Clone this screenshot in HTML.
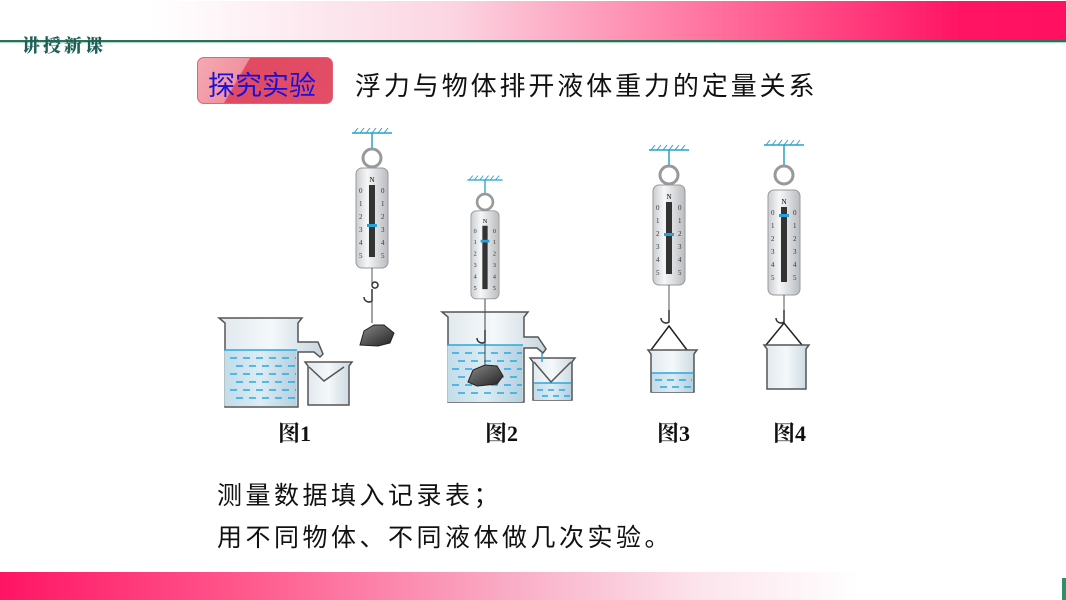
<!DOCTYPE html>
<html><head><meta charset="utf-8">
<style>
html,body{margin:0;padding:0;}
body{width:1066px;height:600px;position:relative;overflow:hidden;background:#fff;font-family:"Liberation Sans","Noto Sans CJK SC",sans-serif;}
.top{position:absolute;left:0;top:1px;width:1066px;height:39px;background:linear-gradient(90deg,#fff 0px,#fff 150px,#fbd6e2 450px,#ff6e9c 720px,#ff1464 960px,#ff1060 1066px);}
.topline{position:absolute;left:0;top:40px;width:1066px;height:2px;background:#2f6f5a;}
.topline2{position:absolute;left:0;top:42px;width:1066px;height:1px;background:#a8dcc8;}
.tag{position:absolute;left:22px;top:32px;font-size:18px;font-weight:900;color:#1f5f57;letter-spacing:3px;font-family:"Liberation Serif","Noto Serif CJK SC",serif;}
.badge{position:absolute;left:197px;top:57px;width:136px;height:47px;border-radius:7px;background:linear-gradient(120deg,#f5aab4 0%,#f1929f 32%,#e04a62 33%,#e24e66 100%);border:1px solid #e0637a;box-sizing:border-box;}
.badge span{position:absolute;left:10px;top:6px;font-size:27px;color:#1a10d8;font-family:"Liberation Sans","Noto Sans CJK SC",sans-serif;}
.title{position:absolute;left:355px;top:66px;font-size:26px;letter-spacing:2.9px;color:#111;white-space:nowrap;}
.fig{position:absolute;top:417px;font-size:22px;font-weight:bold;font-family:"Liberation Serif","Noto Serif CJK SC",serif;color:#111;}
.line{position:absolute;left:217px;font-size:25px;letter-spacing:3.5px;color:#111;white-space:nowrap;}
.bot{position:absolute;left:0;top:572px;width:1066px;height:28px;background:linear-gradient(90deg,#ff1464 0px,#ff5a8e 250px,#f9a9c3 500px,#fce4ec 700px,#fff 860px,#fff 1066px);}
.botg{position:absolute;left:1062px;top:578px;width:4px;height:22px;background:#2f8f6a;}
</style></head><body>
<div class="top"></div><div class="topline"></div><div class="topline2"></div>
<div class="tag">讲授新课</div>
<div class="badge"><span>探究实验</span></div>
<div class="title">浮力与物体排开液体重力的定量关系</div>

<svg width="1066" height="600" style="position:absolute;left:0;top:0" xmlns="http://www.w3.org/2000/svg">
<defs>
<linearGradient id="metal" x1="0" x2="1"><stop offset="0" stop-color="#c9ccd0"/><stop offset="0.35" stop-color="#f6f7f8"/><stop offset="1" stop-color="#b9bcc0"/></linearGradient>
<linearGradient id="glass" x1="0" x2="1"><stop offset="0" stop-color="#dfe8ee"/><stop offset="0.5" stop-color="#f4f8fa"/><stop offset="1" stop-color="#c8d6de"/></linearGradient>
<linearGradient id="water" x1="0" x2="1"><stop offset="0" stop-color="#c2dcea"/><stop offset="0.5" stop-color="#dcecf4"/><stop offset="1" stop-color="#b4d0e0"/></linearGradient>
<linearGradient id="rock" x1="0" x2="1" y1="0" y2="1"><stop offset="0" stop-color="#888"/><stop offset="1" stop-color="#222"/></linearGradient>
</defs>

<g transform="translate(372,133)">
<line x1="-20" y1="0" x2="20" y2="0" stroke="#2aa0c8" stroke-width="1.5"/>
<path d="M-18 0l4-5M-12 0l4-5M-6 0l4-5M0 0l4-5M6 0l4-5M12 0l4-5" stroke="#2aa0c8" stroke-width="1"/>
<line x1="0" y1="0" x2="0" y2="16" stroke="#2aa0c8" stroke-width="1.5"/>
<circle cx="0" cy="25" r="9" fill="none" stroke="#999" stroke-width="3"/>
<rect x="-16" y="35" width="32" height="100" rx="6" fill="url(#metal)" stroke="#999"/>
<text x="0" y="49" font-size="7" text-anchor="middle" font-family="Liberation Serif">N</text>
<rect x="-3" y="52" width="6" height="72" fill="#333"/>
<rect x="-5" y="91" width="10" height="3" fill="#2aa0d8"/>
<g font-size="7" font-family="Liberation Serif" fill="#333"><text x="-13" y="60">0</text><text x="-13" y="73">1</text><text x="-13" y="86">2</text><text x="-13" y="99">3</text><text x="-13" y="112">4</text><text x="-13" y="125">5</text><text x="9" y="60">0</text><text x="9" y="73">1</text><text x="9" y="86">2</text><text x="9" y="99">3</text><text x="9" y="112">4</text><text x="9" y="125">5</text></g>
<line x1="0" y1="135" x2="0" y2="152" stroke="#555"/>
<path d="M0 152a3 3 0 1 1 0 .1M0 156v12a5 5 0 0 1-8-4" fill="none" stroke="#333" stroke-width="1.5"/>
<line x1="0" y1="168" x2="0" y2="190" stroke="#444"/>
</g>
<path d="M360 345l4-14 10-6 10 0 10 8-4 10-12 3z" fill="url(#rock)" stroke="#222"/>

<path d="M219 318h83l-4 5v19h20l5 12-3 3-6-5h-16v55h-73v-84z" fill="url(#glass)" stroke="#555" stroke-width="1.5"/>
<rect x="224.5" y="350" width="72" height="56" fill="url(#water)"/>
<line x1="224" y1="350" x2="297" y2="350" stroke="#2aa8e0" stroke-width="1.5"/>
<g stroke="#2aa8e0" stroke-width="1.5" stroke-dasharray="7 6">
<line x1="230" y1="358" x2="296" y2="358"/><line x1="236" y1="366" x2="296" y2="366"/><line x1="230" y1="374" x2="296" y2="374"/><line x1="236" y1="382" x2="296" y2="382"/><line x1="230" y1="390" x2="296" y2="390"/><line x1="236" y1="398" x2="296" y2="398"/></g>
<path d="M305 362h47l-3 4v39h-41v-39z" fill="url(#glass)" stroke="#555" stroke-width="1.5"/>
<path d="M309 367l15 14 20-14" fill="none" stroke="#555" stroke-width="1.5"/>

<g transform="translate(485,180) scale(0.88)">
<line x1="-20" y1="0" x2="20" y2="0" stroke="#2aa0c8" stroke-width="1.5"/>
<path d="M-18 0l4-5M-12 0l4-5M-6 0l4-5M0 0l4-5M6 0l4-5M12 0l4-5" stroke="#2aa0c8" stroke-width="1"/>
<line x1="0" y1="0" x2="0" y2="16" stroke="#2aa0c8" stroke-width="1.5"/>
<circle cx="0" cy="25" r="9" fill="none" stroke="#999" stroke-width="3"/>
<rect x="-16" y="35" width="32" height="100" rx="6" fill="url(#metal)" stroke="#999"/>
<text x="0" y="49" font-size="7" text-anchor="middle" font-family="Liberation Serif">N</text>
<rect x="-3" y="52" width="6" height="72" fill="#333"/>
<rect x="-5" y="68" width="10" height="3" fill="#2aa0d8"/>
<g font-size="7" font-family="Liberation Serif" fill="#333"><text x="-13" y="60">0</text><text x="-13" y="73">1</text><text x="-13" y="86">2</text><text x="-13" y="99">3</text><text x="-13" y="112">4</text><text x="-13" y="125">5</text><text x="9" y="60">0</text><text x="9" y="73">1</text><text x="9" y="86">2</text><text x="9" y="99">3</text><text x="9" y="112">4</text><text x="9" y="125">5</text></g>
</g>
<path d="M442 312h86l-4 5v20h14l8 12-3 4-6-5h-13v54h-76v-85z" fill="url(#glass)" stroke="#555" stroke-width="1.5"/>
<rect x="447.5" y="345" width="75" height="57" fill="url(#water)"/>
<line x1="447" y1="345" x2="523" y2="345" stroke="#2aa8e0" stroke-width="1.5"/>
<g stroke="#2aa8e0" stroke-width="1.5" stroke-dasharray="7 6">
<line x1="452" y1="353" x2="522" y2="353"/><line x1="458" y1="361" x2="522" y2="361"/><line x1="452" y1="369" x2="522" y2="369"/><line x1="458" y1="377" x2="522" y2="377"/><line x1="452" y1="385" x2="522" y2="385"/><line x1="458" y1="393" x2="522" y2="393"/></g>
<line x1="485" y1="299" x2="485" y2="330" stroke="#444"/>
<path d="M485 330v12a5 5 0 0 1-8-4" fill="none" stroke="#333" stroke-width="1.5"/>
<line x1="485" y1="342" x2="485" y2="365" stroke="#444"/>
<path d="M468 382l5-12 12-5 12 1 6 10-6 8-20 2z" fill="url(#rock)" stroke="#222"/>
<path d="M530 358h45l-3 4v38h-39v-38z" fill="url(#glass)" stroke="#555" stroke-width="1.5"/>
<rect x="534" y="383" width="37" height="17" fill="url(#water)"/>
<line x1="534" y1="383" x2="571" y2="383" stroke="#2aa8e0" stroke-width="1.5"/>
<g stroke="#2aa8e0" stroke-width="1.5" stroke-dasharray="6 5"><line x1="537" y1="390" x2="570" y2="390"/><line x1="542" y1="396" x2="570" y2="396"/></g>
<path d="M534 362l17 20 20-20" fill="none" stroke="#555" stroke-width="1.5"/>
<line x1="542" y1="353" x2="542" y2="362" stroke="#2aa8e0" stroke-width="1.5"/>

<g transform="translate(669,150)">
<line x1="-20" y1="0" x2="20" y2="0" stroke="#2aa0c8" stroke-width="1.5"/>
<path d="M-18 0l4-5M-12 0l4-5M-6 0l4-5M0 0l4-5M6 0l4-5M12 0l4-5" stroke="#2aa0c8" stroke-width="1"/>
<line x1="0" y1="0" x2="0" y2="16" stroke="#2aa0c8" stroke-width="1.5"/>
<circle cx="0" cy="25" r="9" fill="none" stroke="#999" stroke-width="3"/>
<rect x="-16" y="35" width="32" height="100" rx="6" fill="url(#metal)" stroke="#999"/>
<text x="0" y="49" font-size="7" text-anchor="middle" font-family="Liberation Serif">N</text>
<rect x="-3" y="52" width="6" height="72" fill="#333"/>
<rect x="-5" y="83" width="10" height="3" fill="#2aa0d8"/>
<g font-size="7" font-family="Liberation Serif" fill="#333"><text x="-13" y="60">0</text><text x="-13" y="73">1</text><text x="-13" y="86">2</text><text x="-13" y="99">3</text><text x="-13" y="112">4</text><text x="-13" y="125">5</text><text x="9" y="60">0</text><text x="9" y="73">1</text><text x="9" y="86">2</text><text x="9" y="99">3</text><text x="9" y="112">4</text><text x="9" y="125">5</text></g>
<line x1="0" y1="135" x2="0" y2="160" stroke="#555"/>
<path d="M0 160v12a5 5 0 0 1-8-4" fill="none" stroke="#333" stroke-width="1.5"/>
<path d="M-18 200l18-24 18 24" fill="none" stroke="#222" stroke-width="1.5"/>
</g>
<path d="M648 350h49l-3 4v38h-43v-38z" fill="url(#glass)" stroke="#555" stroke-width="1.5"/>
<rect x="652" y="373" width="41" height="19" fill="url(#water)"/>
<line x1="652" y1="373" x2="693" y2="373" stroke="#2aa8e0" stroke-width="1.5"/>
<g stroke="#2aa8e0" stroke-width="1.5" stroke-dasharray="7 5"><line x1="655" y1="380" x2="692" y2="380"/><line x1="660" y1="387" x2="692" y2="387"/></g>

<g transform="translate(784,150)">
<line x1="-20" y1="-5" x2="20" y2="-5" stroke="#2aa0c8" stroke-width="1.5"/>
<path d="M-18 -5l4-5M-12 -5l4-5M-6 -5l4-5M0 -5l4-5M6 -5l4-5M12 -5l4-5" stroke="#2aa0c8" stroke-width="1"/>
<line x1="0" y1="-5" x2="0" y2="16" stroke="#2aa0c8" stroke-width="1.5"/>
<circle cx="0" cy="25" r="9" fill="none" stroke="#999" stroke-width="3"/>
<rect x="-16" y="40" width="32" height="105" rx="6" fill="url(#metal)" stroke="#999"/>
<text x="0" y="54" font-size="7" text-anchor="middle" font-family="Liberation Serif">N</text>
<rect x="-3" y="57" width="6" height="75" fill="#333"/>
<rect x="-5" y="64" width="10" height="3" fill="#2aa0d8"/>
<g font-size="7" font-family="Liberation Serif" fill="#333"><text x="-13" y="65">0</text><text x="-13" y="78">1</text><text x="-13" y="91">2</text><text x="-13" y="104">3</text><text x="-13" y="117">4</text><text x="-13" y="130">5</text><text x="9" y="65">0</text><text x="9" y="78">1</text><text x="9" y="91">2</text><text x="9" y="104">3</text><text x="9" y="117">4</text><text x="9" y="130">5</text></g>
<line x1="0" y1="145" x2="0" y2="160" stroke="#555"/>
<path d="M0 160v12a5 5 0 0 1-8-4" fill="none" stroke="#333" stroke-width="1.5"/>
<path d="M-18 195l18-22 18 22" fill="none" stroke="#222" stroke-width="1.5"/>
</g>
<path d="M764 345h45l-3 4v40h-39v-40z" fill="url(#glass)" stroke="#555" stroke-width="1.5"/>
</svg>

<div class="fig" style="left:278px">图1</div>
<div class="fig" style="left:485px">图2</div>
<div class="fig" style="left:657px">图3</div>
<div class="fig" style="left:773px">图4</div>
<div class="line" style="top:476px">测量数据填入记录表；</div>
<div class="line" style="top:518px">用不同物体、不同液体做几次实验。</div>
<div class="bot"></div><div class="botg"></div>
</body></html>
